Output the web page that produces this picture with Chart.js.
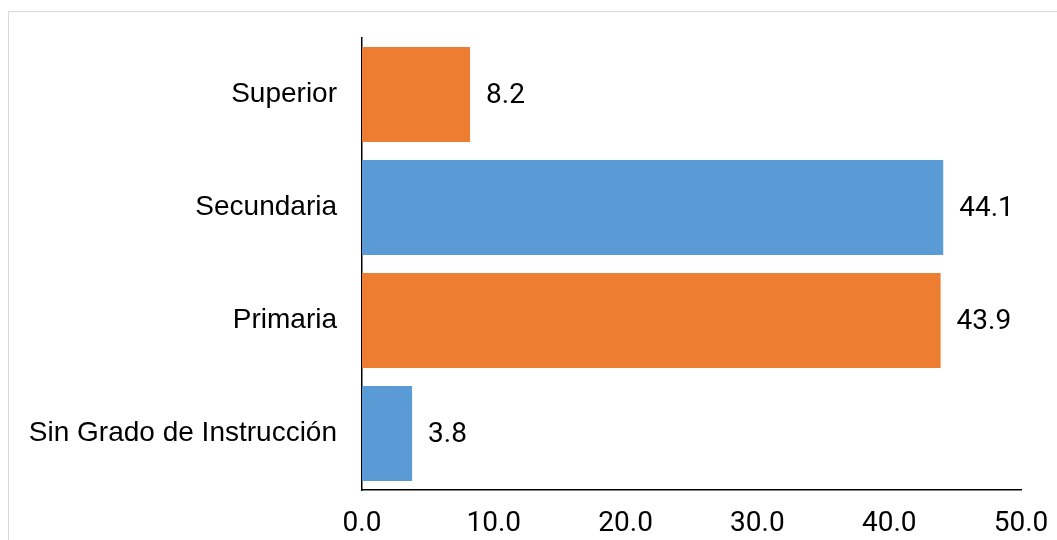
<!DOCTYPE html>
<html>
<head>
<meta charset="utf-8">
<script src="https://cdn.jsdelivr.net/npm/chart.js@4"></script>
<style>
  html, body { margin: 0; padding: 0; background: #fff; overflow: hidden; }
  #frame { position: absolute; left: 8px; top: 11px; width: 1200px; height: 700px; border: 1px solid #d9d9d9; }
  #wrap { position: absolute; left: 0; top: 0; width: 1057px; height: 540px; }
</style>
</head>
<body>
<div id="frame"></div>
<div id="wrap"><canvas id="myChart" width="1057" height="540"></canvas></div>
<script>
const categories = ['Superior', 'Secundaria', 'Primaria', 'Sin Grado de Instrucción']
const values = [8.2, 44.1, 43.9, 3.8]
const tickValues = [0, 10, 20, 30, 40, 50]
const colors = {
  Orange: '#ED7D31',
  Blue: '#5B9BD5'
}
const barColors = [colors.Orange, colors.Blue, colors.Orange, colors.Blue]

// draws the number next to each bar
const valueLabels = {
  id: 'valueLabels',
  afterDatasetsDraw(chart) {
    const ctx = chart.ctx
    const meta = chart.getDatasetMeta(0)
    ctx.save()
    ctx.font = '28px Roboto'
    ctx.fillStyle = '#000'
    ctx.textAlign = 'left'
    ctx.textBaseline = 'middle'
    meta.data.forEach(function (bar, i) {
      ctx.fillText(values[i].toFixed(1), bar.x + 16, bar.y + 1)
    })
    ctx.restore()
  }
}

const ctx = document.getElementById('myChart')
let chart = new Chart(ctx, {
  type: 'bar',
  data: {
    labels: categories,
    datasets: [{
      data: values,
      backgroundColor: barColors,
      borderWidth: 0,
      barPercentage: 0.84,
      categoryPercentage: 1
    }]
  },
  options: {
    indexAxis: 'y',
    responsive: false,
    animation: false,
    devicePixelRatio: 1,
    layout: { padding: { top: 38, right: 36, left: 0, bottom: 0 } },
    plugins: {
      legend: { display: false },
      tooltip: { enabled: false }
    },
    scales: {
      x: {
        min: 0,
        max: 50,
        afterBuildTicks: function (scale) {
          scale.ticks = tickValues.map(v => ({ value: v }))
        },
        afterFit: function (scale) {
          scale.height = 50
          scale.paddingLeft = 0
          scale.paddingRight = 0
        },
        grid: { display: false, drawTicks: false },
        border: { display: true, color: '#000', width: 1.5 },
        ticks: {
          padding: 17,
          color: '#000',
          font: { family: 'Roboto', size: 28 },
          callback: v => Number(v).toFixed(1)
        }
      },
      y: {
        afterFit: function (scale) {
          scale.width = 362
          scale.paddingTop = 0
          scale.paddingBottom = 0
        },
        grid: { display: false, drawTicks: false },
        border: { display: true, color: '#000', width: 1.5 },
        ticks: {
          padding: 25,
          color: '#000',
          font: { family: "Arial, 'Liberation Sans', sans-serif", size: 28 }
        }
      }
    }
  },
  plugins: [valueLabels]
})
</script>
</body>
</html>
